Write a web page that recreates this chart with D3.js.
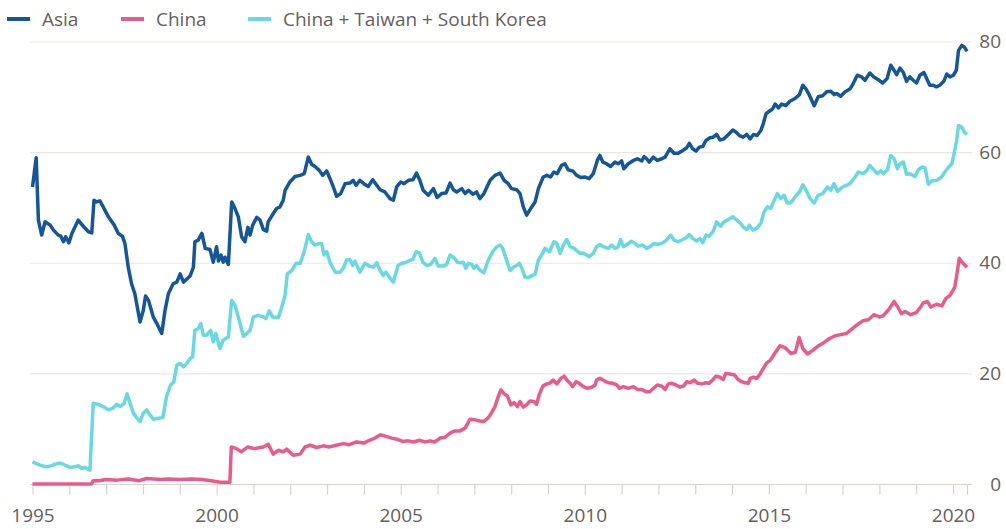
<!DOCTYPE html>
<html>
<head>
<meta charset="utf-8">
<script src="https://cdn.jsdelivr.net/npm/d3@7"></script>
<style>
  html, body { margin: 0; padding: 0; background: #ffffff; }
  svg { display: block; }
  text { font-family: "Open Sans", "Noto Sans", sans-serif; }
</style>
</head>
<body>
<svg id="chart" width="1006" height="529"></svg>
<script>
// ---------- data (decimal year, share %) ----------
const seriesNames = ["Asia", "China", "China + Taiwan + South Korea"];
const seriesColors = ["#135699", "#ea5b8c", "#66d9e3"];

const asia = [
[1995.00,53.7],[1995.10,59.0],[1995.16,47.7],[1995.25,45.0],[1995.34,47.4],[1995.48,46.8],[1995.57,45.9],[1995.70,45.0],[1995.77,44.8],[1995.84,43.8],[1995.90,44.7],[1995.99,43.6],
[1996.07,45.3],[1996.24,47.7],[1996.38,46.6],[1996.52,45.6],[1996.61,45.4],[1996.67,51.3],[1996.74,51.0],[1996.83,51.2],[1996.92,50.1],
[1997.06,48.3],[1997.22,46.8],[1997.33,45.3],[1997.44,44.8],[1997.51,43.5],[1997.60,39.2],[1997.69,36.2],[1997.78,34.4],[1997.92,29.3],
[1998.01,31.4],[1998.07,34.0],[1998.15,33.2],[1998.28,30.2],[1998.37,29.1],[1998.51,27.2],[1998.60,31.4],[1998.69,34.4],[1998.82,36.2],[1998.92,36.5],
[1999.01,38.0],[1999.10,36.5],[1999.28,37.6],[1999.37,39.2],[1999.41,43.8],[1999.50,44.1],[1999.60,45.3],[1999.69,42.6],[1999.82,42.4],[1999.91,40.1],
[2000.00,42.9],[2000.05,40.3],[2000.12,41.4],[2000.18,40.1],[2000.23,41.0],[2000.32,39.7],[2000.41,51.0],[2000.50,49.8],[2000.59,48.3],[2000.68,44.7],[2000.77,43.8],[2000.85,46.4],[2000.91,45.0],[2000.98,46.8],
[2001.09,48.2],[2001.18,47.7],[2001.27,46.0],[2001.36,45.7],[2001.40,47.4],[2001.54,48.9],[2001.63,49.8],[2001.72,50.1],[2001.81,51.3],[2001.86,53.1],[2001.99,54.6],
[2002.13,55.6],[2002.27,55.8],[2002.38,56.1],[2002.49,59.1],[2002.58,57.8],[2002.67,57.4],[2002.79,56.7],[2002.88,55.8],[2002.99,56.6],
[2003.08,55.2],[2003.17,53.7],[2003.26,52.0],[2003.37,52.5],[2003.49,54.3],[2003.62,54.4],[2003.71,54.9],[2003.79,54.0],[2003.89,54.9],
[2004.00,54.3],[2004.12,53.8],[2004.24,55.0],[2004.35,54.0],[2004.44,53.2],[2004.57,52.8],[2004.71,51.6],[2004.80,51.3],[2004.89,53.7],
[2005.00,54.6],[2005.09,54.3],[2005.21,54.9],[2005.33,55.0],[2005.43,56.2],[2005.52,54.9],[2005.61,53.1],[2005.75,52.2],[2005.89,53.4],[2005.99,51.8],
[2006.11,52.5],[2006.23,52.6],[2006.34,54.4],[2006.43,53.2],[2006.52,52.8],[2006.66,53.4],[2006.75,52.5],[2006.84,53.1],[2006.96,52.4],
[2007.06,52.8],[2007.15,51.6],[2007.26,52.5],[2007.43,54.9],[2007.56,55.8],[2007.70,56.2],[2007.81,54.9],[2007.92,54.3],
[2008.01,53.4],[2008.15,53.2],[2008.24,52.5],[2008.33,50.1],[2008.42,48.6],[2008.53,49.8],[2008.65,51.0],[2008.74,53.4],[2008.87,55.5],[2008.97,55.8],
[2009.07,55.5],[2009.16,56.4],[2009.25,56.1],[2009.37,57.6],[2009.46,57.9],[2009.55,56.8],[2009.67,56.6],[2009.78,55.8],[2009.89,55.4],
[2010.01,55.5],[2010.12,55.2],[2010.23,56.1],[2010.34,58.5],[2010.41,59.4],[2010.49,58.2],[2010.59,57.9],[2010.70,57.4],[2010.82,58.2],[2010.91,57.9],
[2011.00,58.4],[2011.06,57.0],[2011.18,57.9],[2011.32,58.5],[2011.43,58.8],[2011.55,58.4],[2011.61,59.2],[2011.68,58.8],[2011.75,58.2],[2011.86,59.1],[2011.97,58.5],
[2012.09,58.8],[2012.18,59.1],[2012.31,60.6],[2012.42,59.8],[2012.54,59.8],[2012.66,60.3],[2012.77,60.8],[2012.84,61.6],[2012.93,60.6],
[2013.02,60.2],[2013.11,60.9],[2013.20,61.0],[2013.29,62.1],[2013.40,62.6],[2013.49,62.7],[2013.58,63.2],[2013.67,62.2],[2013.78,62.4],[2013.90,63.2],
[2014.02,64.0],[2014.11,63.6],[2014.20,63.0],[2014.30,62.7],[2014.40,63.2],[2014.49,62.4],[2014.58,63.2],[2014.68,63.0],[2014.78,63.9],[2014.85,65.2],[2014.92,66.9],
[2015.01,67.4],[2015.10,67.8],[2015.17,68.7],[2015.26,68.0],[2015.35,68.7],[2015.46,68.4],[2015.57,69.2],[2015.71,69.7],[2015.83,70.4],[2015.92,72.1],
[2016.01,71.4],[2016.10,70.3],[2016.23,68.4],[2016.34,70.0],[2016.46,70.2],[2016.57,70.9],[2016.68,71.0],[2016.77,70.4],[2016.84,70.6],[2016.95,70.1],
[2017.07,70.9],[2017.20,71.4],[2017.29,72.4],[2017.40,73.9],[2017.52,73.6],[2017.61,73.0],[2017.74,74.3],[2017.85,73.6],[2017.97,73.1],
[2018.09,72.5],[2018.21,73.3],[2018.31,75.7],[2018.40,74.8],[2018.47,74.0],[2018.56,75.2],[2018.65,74.4],[2018.74,72.8],[2018.83,73.6],[2018.92,73.0],
[2019.01,72.5],[2019.10,73.9],[2019.21,74.4],[2019.30,73.1],[2019.37,72.1],[2019.46,72.1],[2019.55,71.8],[2019.64,72.1],[2019.75,72.8],[2019.83,74.1],[2019.92,73.6],
[2020.01,73.9],[2020.09,74.8],[2020.15,78.4],[2020.24,79.3],[2020.31,79.0],[2020.38,78.2]
];

const china = [
[1995.00,0.0],[1996.60,0.0],[1996.65,0.6],[1996.80,0.6],[1997.00,0.8],[1997.30,0.7],[1997.60,0.9],[1997.90,0.6],
[1998.10,1.0],[1998.30,0.9],[1998.50,0.8],[1998.70,0.9],[1999.00,0.8],[1999.30,0.9],[1999.60,0.8],[1999.85,0.6],
[2000.10,0.3],[2000.36,0.3],[2000.40,6.7],[2000.54,6.4],[2000.67,5.8],[2000.85,6.7],
[2001.03,6.4],[2001.17,6.6],[2001.27,6.7],[2001.40,7.2],[2001.54,5.4],[2001.68,6.1],[2001.81,5.8],[2001.90,6.3],
[2002.08,5.2],[2002.27,5.4],[2002.40,6.7],[2002.54,7.0],[2002.72,6.6],[2002.90,6.9],
[2003.05,6.7],[2003.25,7.0],[2003.45,7.3],[2003.60,7.1],[2003.80,7.6],[2004.00,7.4],[2004.15,7.9],[2004.30,8.3],[2004.45,8.9],[2004.60,8.6],[2004.75,8.3],[2004.90,8.1],
[2005.05,7.7],[2005.20,7.8],[2005.35,7.6],[2005.52,7.9],[2005.66,7.6],[2005.80,7.8],[2005.93,7.6],
[2006.07,8.3],[2006.20,8.4],[2006.34,9.2],[2006.47,9.6],[2006.61,9.6],[2006.75,10.1],[2006.88,11.7],
[2007.02,11.6],[2007.15,11.4],[2007.26,11.3],[2007.38,12.0],[2007.47,12.9],[2007.56,14.0],[2007.65,15.8],[2007.72,17.0],[2007.81,16.3],[2007.90,15.9],[2007.99,14.3],
[2008.08,14.7],[2008.17,14.0],[2008.24,14.9],[2008.33,13.9],[2008.42,14.3],[2008.51,15.0],[2008.62,14.9],[2008.69,14.4],[2008.76,16.1],[2008.86,17.7],[2008.97,18.1],
[2009.05,18.2],[2009.14,18.8],[2009.24,18.1],[2009.35,19.1],[2009.44,19.5],[2009.51,18.8],[2009.60,18.2],[2009.67,17.6],[2009.76,18.5],[2009.85,18.2],[2009.96,17.6],
[2010.07,17.3],[2010.19,17.5],[2010.28,17.9],[2010.32,18.8],[2010.41,19.1],[2010.52,18.7],[2010.64,18.3],[2010.76,18.2],[2010.87,17.9],[2010.94,17.3],
[2011.05,17.6],[2011.18,17.3],[2011.32,17.6],[2011.43,17.1],[2011.55,17.1],[2011.66,16.7],[2011.77,16.7],[2011.86,17.3],[2011.97,17.9],
[2012.09,17.7],[2012.18,17.1],[2012.27,18.1],[2012.36,18.2],[2012.48,17.9],[2012.59,17.5],[2012.68,17.7],[2012.77,18.5],[2012.86,18.3],[2012.97,18.8],
[2013.06,18.2],[2013.17,18.1],[2013.29,18.3],[2013.38,18.2],[2013.47,18.8],[2013.56,19.5],[2013.67,19.3],[2013.76,18.9],[2013.83,20.0],[2013.94,19.9],
[2014.07,19.7],[2014.16,18.9],[2014.26,18.5],[2014.35,18.3],[2014.44,18.2],[2014.49,19.1],[2014.58,19.3],[2014.67,19.1],[2014.76,19.9],[2014.85,20.9],[2014.94,21.9],
[2015.03,22.3],[2015.15,23.5],[2015.30,25.0],[2015.45,24.6],[2015.60,23.6],[2015.72,23.8],[2015.82,26.5],[2015.92,24.5],
[2016.05,23.5],[2016.20,24.2],[2016.35,25.0],[2016.50,25.6],[2016.65,26.3],[2016.80,26.8],[2016.95,27.0],
[2017.10,27.2],[2017.25,28.0],[2017.40,28.8],[2017.55,29.5],[2017.70,29.7],[2017.85,30.6],
[2018.00,30.2],[2018.10,30.4],[2018.25,31.5],[2018.40,33.0],[2018.50,32.0],[2018.60,30.8],[2018.70,31.2],[2018.85,30.6],
[2019.00,31.0],[2019.10,31.8],[2019.20,32.8],[2019.30,33.0],[2019.40,32.0],[2019.55,32.5],[2019.70,32.2],[2019.80,33.5],[2019.92,34.1],
[2020.05,35.6],[2020.12,38.5],[2020.17,40.8],[2020.26,40.0],[2020.38,39.2]
];

const ctk = [
[1995.00,4.0],[1995.11,3.7],[1995.25,3.3],[1995.39,3.1],[1995.52,3.3],[1995.61,3.6],[1995.75,3.8],[1995.88,3.4],
[1996.02,3.0],[1996.15,3.1],[1996.24,3.3],[1996.34,2.8],[1996.43,3.0],[1996.56,2.5],[1996.65,14.6],[1996.79,14.4],[1996.92,14.0],
[1997.06,13.4],[1997.18,13.7],[1997.29,14.4],[1997.38,14.0],[1997.49,14.6],[1997.57,16.3],[1997.65,14.6],[1997.74,12.8],[1997.83,12.0],[1997.92,11.3],
[1998.01,12.8],[1998.10,13.4],[1998.19,12.5],[1998.28,11.7],[1998.42,11.9],[1998.54,12.0],[1998.64,15.8],[1998.75,17.9],[1998.84,18.5],[1998.92,21.5],
[1999.01,21.8],[1999.10,21.2],[1999.19,21.8],[1999.28,22.7],[1999.35,23.0],[1999.41,27.8],[1999.50,28.1],[1999.57,29.0],[1999.64,26.9],[1999.73,26.9],[1999.84,27.8],[1999.91,25.7],[1999.98,27.2],
[2000.09,24.5],[2000.18,26.0],[2000.32,26.6],[2000.41,33.2],[2000.50,32.3],[2000.59,30.2],[2000.73,26.7],[2000.82,27.2],[2000.91,27.8],
[2001.00,30.2],[2001.13,30.5],[2001.27,30.2],[2001.34,29.9],[2001.43,31.3],[2001.52,30.2],[2001.68,30.1],[2001.77,32.0],[2001.86,34.1],[2001.92,38.0],
[2002.04,38.6],[2002.16,39.9],[2002.27,39.9],[2002.38,42.0],[2002.49,45.1],[2002.58,43.8],[2002.67,43.2],[2002.79,43.5],[2002.85,43.5],[2002.92,41.4],[2002.99,42.0],
[2003.08,40.1],[2003.22,38.3],[2003.35,38.3],[2003.44,39.0],[2003.53,40.5],[2003.62,40.6],[2003.70,39.5],[2003.76,40.3],[2003.89,38.3],
[2004.03,39.9],[2004.15,39.4],[2004.26,39.2],[2004.35,40.0],[2004.44,38.6],[2004.53,37.7],[2004.60,38.3],[2004.69,37.4],[2004.80,36.5],[2004.93,39.5],
[2005.03,39.9],[2005.12,40.0],[2005.21,40.3],[2005.33,40.6],[2005.42,42.0],[2005.51,41.8],[2005.60,40.1],[2005.71,39.5],[2005.81,39.7],[2005.93,40.8],
[2006.02,39.4],[2006.16,39.4],[2006.25,39.7],[2006.34,41.4],[2006.45,40.9],[2006.54,40.1],[2006.63,40.0],[2006.70,40.1],[2006.77,39.0],[2006.84,39.9],[2006.93,39.7],[2006.99,39.0],
[2007.06,39.5],[2007.13,38.8],[2007.26,38.2],[2007.38,40.5],[2007.50,42.0],[2007.61,42.9],[2007.70,43.2],[2007.77,42.6],[2007.86,40.8],[2007.97,38.6],
[2008.06,39.2],[2008.15,39.5],[2008.22,39.9],[2008.29,39.0],[2008.38,37.4],[2008.47,37.3],[2008.56,37.7],[2008.65,37.9],[2008.74,40.5],[2008.83,41.4],[2008.92,42.6],
[2009.04,42.0],[2009.16,43.8],[2009.24,43.5],[2009.33,41.7],[2009.42,43.2],[2009.51,44.2],[2009.60,42.9],[2009.69,42.7],[2009.80,42.1],[2009.87,41.7],[2009.98,41.7],
[2010.12,41.1],[2010.23,41.7],[2010.32,42.9],[2010.41,43.3],[2010.50,42.9],[2010.64,42.6],[2010.73,43.2],[2010.82,42.6],[2010.91,42.9],[2010.97,44.2],
[2011.05,42.9],[2011.15,43.3],[2011.27,43.9],[2011.36,43.5],[2011.45,43.0],[2011.57,43.2],[2011.68,42.6],[2011.77,42.9],[2011.88,43.5],[2011.97,43.3],
[2012.09,43.5],[2012.22,44.1],[2012.33,45.0],[2012.42,44.1],[2012.54,43.8],[2012.66,44.2],[2012.77,44.6],[2012.84,45.1],[2012.93,44.4],
[2013.04,43.9],[2013.13,44.4],[2013.20,43.6],[2013.29,45.0],[2013.38,44.8],[2013.49,45.7],[2013.58,47.4],[2013.69,46.6],[2013.78,47.4],[2013.90,47.8],
[2014.02,48.3],[2014.13,47.7],[2014.22,47.2],[2014.30,46.5],[2014.40,46.0],[2014.47,46.8],[2014.56,45.9],[2014.67,46.2],[2014.78,47.1],[2014.87,49.2],[2014.96,50.1],
[2015.05,49.8],[2015.14,51.2],[2015.23,52.5],[2015.32,51.6],[2015.41,52.2],[2015.50,50.8],[2015.59,50.8],[2015.71,51.9],[2015.83,52.8],[2015.92,54.1],
[2016.01,53.1],[2016.12,51.6],[2016.23,50.8],[2016.34,52.2],[2016.46,52.5],[2016.59,53.7],[2016.68,53.1],[2016.77,54.3],[2016.86,52.9],
[2017.00,53.7],[2017.20,54.3],[2017.34,55.5],[2017.43,56.4],[2017.56,56.1],[2017.66,56.7],[2017.74,57.6],[2017.85,56.8],[2017.94,56.1],
[2018.04,56.6],[2018.11,56.1],[2018.22,56.8],[2018.31,59.4],[2018.40,58.8],[2018.49,57.0],[2018.56,57.9],[2018.65,58.2],[2018.74,56.0],[2018.83,56.1],[2018.97,55.6],
[2019.06,56.8],[2019.15,57.3],[2019.24,57.2],[2019.33,54.2],[2019.42,54.8],[2019.56,54.9],[2019.69,55.5],[2019.78,56.4],[2019.88,57.3],[2019.97,57.9],
[2020.03,59.7],[2020.10,62.1],[2020.15,64.8],[2020.24,64.5],[2020.31,63.6],[2020.38,63.2]
];

const yTicks = [0, 20, 40, 60, 80];
const xLabelYears = [1995, 2000, 2005, 2010, 2015, 2020];
const xTickYears = d3.range(1995, 2021);
const lastDataYear = 2020.38;

// ---------- layout ----------
const svg = d3.select("#chart");
const x = d3.scaleLinear().domain([1995, 2020]).range([32.5, 953]);
const y = d3.scaleLinear().domain([0, 80]).range([484, 41.5]);
const gridX0 = 30, gridX1 = 972;

const gridColor = "#ebe6e1";
const axisColor = "#d9d2cb";
const textColor = "#66605c";
const fontSize = "19px";

// horizontal gridlines
svg.append("g").selectAll("line").data(yTicks).join("line")
  .attr("x1", gridX0).attr("x2", gridX1)
  .attr("y1", d => y(d) + 0.5).attr("y2", d => y(d) + 0.5)
  .attr("stroke", d => d === 0 ? axisColor : gridColor)
  .attr("stroke-width", 1.2);

// y labels on the right
const yAxis = d3.axisRight(y).tickValues(yTicks).tickSize(0).tickPadding(0);
const gy = svg.append("g").attr("transform", "translate(1001,0)").call(yAxis);
gy.select(".domain").remove();
gy.selectAll("text").attr("text-anchor", "end").attr("x", 0)
  .attr("fill", textColor).style("font-size", fontSize)
  .style("font-family", '"Open Sans", sans-serif');

// x axis ticks (yearly) + labels every 5 years
const xAxis = d3.axisBottom(x).tickValues(xTickYears.concat([lastDataYear]))
  .tickSize(10).tickPadding(14)
  .tickFormat(d => xLabelYears.includes(d) ? String(d) : "");
const gx = svg.append("g").attr("transform", "translate(0,484.5)").call(xAxis);
gx.select(".domain").remove();
gx.selectAll(".tick line").attr("stroke", axisColor).attr("stroke-width", 1.2);
gx.selectAll("text").attr("fill", textColor).style("font-size", fontSize)
  .style("font-family", '"Open Sans", sans-serif');

// lines
const line = d3.line().x(d => x(d[0])).y(d => y(d[1])).curve(d3.curveLinear);
const allSeries = [ctk, china, asia];
const allColors = [seriesColors[2], seriesColors[1], seriesColors[0]];
svg.append("g").selectAll("path").data(allSeries).join("path")
  .attr("d", line)
  .attr("fill", "none")
  .attr("stroke", (d, i) => allColors[i])
  .attr("stroke-width", 3.5)
  .attr("stroke-linejoin", "round")
  .attr("stroke-linecap", "butt");

// legend
const legendX = [7, 121, 248];
const lg = svg.append("g");
seriesNames.forEach((name, i) => {
  lg.append("line")
    .attr("x1", legendX[i]).attr("x2", legendX[i] + 23)
    .attr("y1", 19).attr("y2", 19)
    .attr("stroke", seriesColors[i]).attr("stroke-width", 4);
  lg.append("text")
    .attr("x", legendX[i] + 35).attr("y", 19).attr("dy", "0.35em")
    .attr("fill", textColor).style("font-size", fontSize)
    .text(name);
});
</script>
</body>
</html>
